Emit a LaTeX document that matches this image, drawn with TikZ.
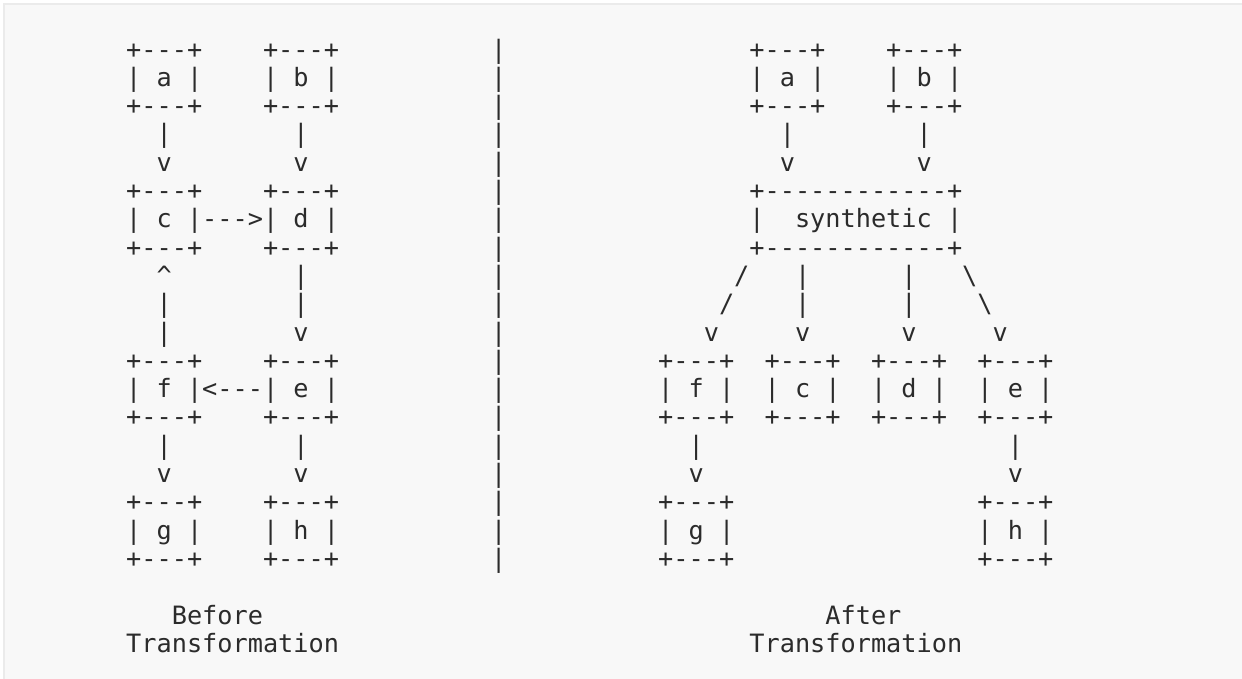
\documentclass[tikz,border=0pt]{standalone}
\usepackage{fontspec}
\setmonofont{DejaVu Sans Mono}
\definecolor{ink}{HTML}{2B2B2B}
\definecolor{paper}{HTML}{F8F8F8}
\definecolor{rim}{HTML}{EBEBEB}
\tikzset{
  ascii/.style = {font=\ttfamily\fontsize{25.25bp}{28.3bp}\selectfont,
                  text=ink, inner sep=0pt, anchor=base west}
}

\begin{document}
\begin{tikzpicture}[x=15.2bp, y=-28.3bp]
  \useasboundingbox (-126bp,58bp) rectangle (1116bp,-621bp);
  \fill[white] (-130bp,62bp) rectangle (1130bp,-640bp);
  \fill[rim] (-123bp,55bp) rectangle (1130bp,-640bp);
  \fill[paper] (-121bp,53bp) rectangle (1130bp,-640bp);

  % before
  \foreach \n/\c/\r in {a/0/0, b/9/0, c/0/5, d/9/5, f/0/11, e/9/11, g/0/16, h/9/16} {
    \node[ascii] (old-\n-top) at (\c,\r) {+---+};
    \node[ascii] (old-\n) at (\c,\r+1) {| \n{} |};
    \node[ascii] (old-\n-bot) at (\c,\r+2) {+---+};
  }
  \node[ascii] (old-cd) at (5,6) {--->};
  \node[ascii] (old-ef) at (5,12) {<---};
  \node[ascii] (old-fc) at (2,8) {\textasciicircum};
  \foreach \c/\r [count=\i] in {2/3, 11/3, 11/8, 2/9, 11/9, 2/10, 2/14, 11/14}
    \node[ascii] (old-bar\i) at (\c,\r) {|};
  \foreach \c/\r [count=\i] in {2/4, 11/4, 11/10, 2/15, 11/15}
    \node[ascii] (old-tip\i) at (\c,\r) {v};

  % divider
  \foreach \r in {0,...,18}
    \node[ascii] (rule\r) at (24,\r) {|};

  % after
  \foreach \n/\c/\r in {a/41/0, b/50/0, f/35/11, c/42/11, d/49/11, e/56/11, g/35/16, h/56/16} {
    \node[ascii] (new-\n-top) at (\c,\r) {+---+};
    \node[ascii] (new-\n) at (\c,\r+1) {| \n{} |};
    \node[ascii] (new-\n-bot) at (\c,\r+2) {+---+};
  }
  \node[ascii] (new-syn-top) at (41,5) {+------------+};
  \node[ascii] (new-syn) at (41,6) {|\ \ synthetic |};
  \node[ascii] (new-syn-bot) at (41,7) {+------------+};
  \foreach \c/\r [count=\i] in {43/3, 52/3, 44/8, 51/8, 44/9, 51/9, 37/14, 58/14}
    \node[ascii] (new-bar\i) at (\c,\r) {|};
  \foreach \c/\r [count=\i] in {43/4, 52/4, 38/10, 44/10, 51/10, 57/10, 37/15, 58/15}
    \node[ascii] (new-tip\i) at (\c,\r) {v};
  \node[ascii] (new-sl1) at (40,8) {/};
  \node[ascii] (new-sl2) at (39,9) {/};
  \node[ascii] (new-bs1) at (55,8) {\textbackslash};
  \node[ascii] (new-bs2) at (56,9) {\textbackslash};

  % captions
  \node[ascii] (old-cap) at (3,20) {Before};
  \node[ascii] (old-cap2) at (0,21) {Transformation};
  \node[ascii] (new-cap) at (46,20) {After};
  \node[ascii] (new-cap2) at (41,21) {Transformation};
\end{tikzpicture}
\end{document}
